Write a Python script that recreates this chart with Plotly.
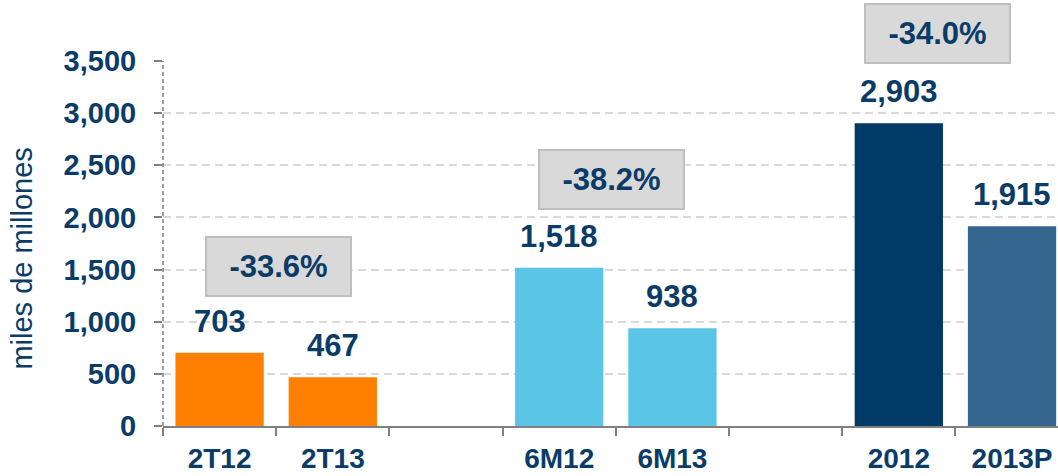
import plotly.graph_objects as go

categories = ["2T12", "2T13", " ", "6M12", "6M13", "  ", "2012", "2013P"]
values = [703, 467, None, 1518, 938, None, 2903, 1915]
value_labels = ["703", "467", "", "1,518", "938", "", "2,903", "1,915"]
bar_colors = ["#FF7F00", "#FF7F00", "#FFFFFF", "#5BC5E8", "#5BC5E8", "#FFFFFF", "#003A66", "#346690"]
changes = ["-33.6%", "-38.2%", "-34.0%"]
y_ticks = [0, 500, 1000, 1500, 2000, 2500, 3000, 3500]

# box positions (layout only)
box_x = [0.52, 3.46, 6.34]
box_y_paper = [0.438, 0.674, 1.074]

NAVY = "#0B3C68"
FONT = "Liberation Sans"

fig = go.Figure()
fig.add_trace(go.Bar(
    x=categories, y=values, marker=dict(color=bar_colors, line=dict(width=0)),
    width=0.78, showlegend=False, hoverinfo="skip",
))

annotations = []
for i, (v, t) in enumerate(zip(values, value_labels)):
    if v is None:
        continue
    annotations.append(dict(
        x=i, y=v, xref="x", yref="y", text=t, showarrow=False,
        yanchor="bottom", yshift=12,
        font=dict(family=FONT, size=31, color=NAVY, weight="bold"),
    ))
for t, cx, cy in zip(changes, box_x, box_y_paper):
    annotations.append(dict(
        x=cx, y=cy, xref="x", yref="paper", text=t, showarrow=False,
        xanchor="center", yanchor="middle",
        width=141, height=55, bgcolor="#D9D9D9", bordercolor="#BFBFBF", borderwidth=2,
        font=dict(family=FONT, size=31, color=NAVY, weight="bold"),
    ))
annotations.append(dict(
    x=-0.157, y=0.46, xref="paper", yref="paper", text="miles de millones",
    textangle=-90, showarrow=False, xanchor="center", yanchor="middle",
    font=dict(family=FONT, size=29, color=NAVY),
))

fig.update_layout(
    width=1058, height=476,
    margin=dict(l=163, r=0, t=61, b=50),
    paper_bgcolor="white", plot_bgcolor="white",
    annotations=annotations,
    shapes=[dict(type="line", xref="paper", yref="y", x0=0, x1=0, y0=0, y1=3500,
                 line=dict(color="#808080", width=1.5, dash="4px,3px"))],
    xaxis=dict(
        type="category", categoryorder="array", categoryarray=categories,
        range=[-0.5, 7.406], tickson="boundaries", ticks="outside", ticklen=8,
        tickcolor="#808080", tickwidth=2, ticklabelstandoff=6,
        showline=True, linecolor="#808080", linewidth=2, showgrid=False,
        tickfont=dict(family=FONT, size=28, color=NAVY, weight="bold"),
    ),
    yaxis=dict(
        range=[0, 3500], tickvals=y_ticks, tickformat=",d",
        ticks="outside", ticklen=8, tickcolor="#808080", tickwidth=1.5,
        ticklabelstandoff=12,
        showgrid=True, gridcolor="#D9D9D9", gridwidth=2, griddash="8px,5px",
        showline=False, zeroline=False,
        tickfont=dict(family=FONT, size=29, color=NAVY, weight="bold"),
    ),
)

fig.write_html("out.html", config={"displayModeBar": False},
               post_script="document.body.style.margin='0';document.body.style.overflow='hidden';")
